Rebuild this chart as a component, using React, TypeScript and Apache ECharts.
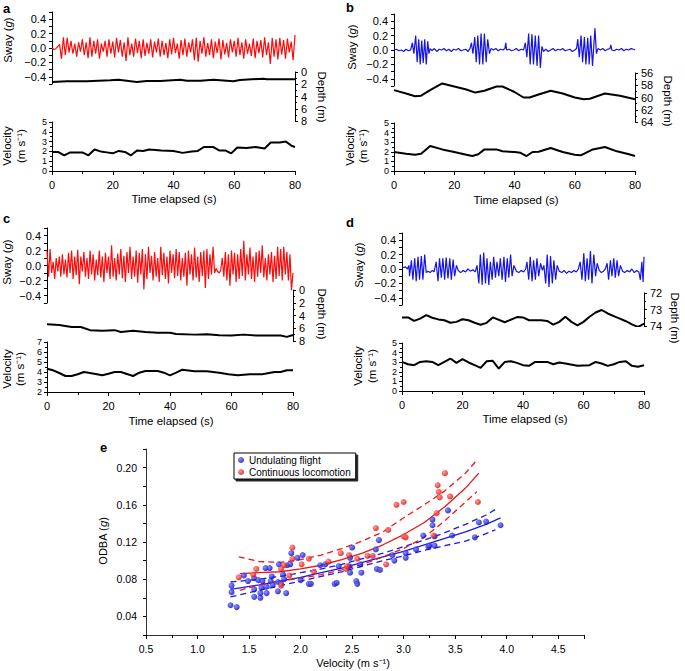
import React, { useEffect, useRef } from "react";
import * as echarts from "echarts";

const FF = '"Liberation Sans", Arial, Helvetica, sans-serif';
const RED = "#ff0a0a";
const BLUE = "#1414e6";

// ---------- Panel a ----------
const swayA = [
  0.0, -0.02, -0.01, 0.02, 0.05, -0.15, 0.15, -0.1, 0.14, -0.06,
  0.1, -0.08, 0.06, -0.12, 0.08, -0.05, 0.12, -0.1, 0.08, -0.14,
  0.15, -0.12, 0.1, -0.08, 0.12, -0.15, 0.06, -0.05, 0.1, -0.12,
  0.12, -0.08, 0.09, -0.13, 0.14, -0.06, 0.11, -0.12, 0.08, -0.18,
  0.15, -0.1, 0.06, -0.12, 0.13, -0.07, 0.1, -0.14, 0.12, -0.11,
  0.07, -0.08, 0.12, -0.13, 0.09, -0.06, 0.13, -0.12, 0.1, -0.1,
  0.07, -0.14, 0.12, -0.09, 0.14, -0.07, 0.06, -0.15, 0.11, -0.1,
  0.13, -0.12, 0.08, -0.06, 0.12, -0.17, 0.14, -0.19, 0.1, -0.08,
  0.15, -0.12, 0.07, -0.1, 0.12, -0.14, 0.09, -0.07, 0.13, -0.16,
  0.11, -0.09, 0.07, -0.13, 0.12, -0.06, 0.1, -0.12, 0.14, -0.1,
  0.08, -0.15, 0.12, -0.08, 0.06, -0.11, 0.13, -0.14, 0.1, -0.07,
  0.11, -0.13, 0.15, -0.1, 0.08, -0.22, 0.14, -0.12, 0.12, -0.16,
  0.14, -0.09, 0.11, -0.15, 0.13, -0.06, 0.09, -0.17, 0.18,
];
const depthA: number[][] = [
  [0, 1.63], [4.9, 1.52], [11.5, 1.52], [19.2, 1.36], [21.9, 1.25], [27.9, 1.63],
  [31.2, 1.47], [35.6, 1.47], [42.2, 1.25], [44.4, 1.41], [48.8, 1.41], [53.2, 1.25],
  [59.7, 1.52], [61.9, 1.3], [69.6, 1.09], [70.7, 1.2], [80, 1.2],
];
const velA: number[][] = [
  [0, 1.95], [2, 1.95], [4, 1.6], [6, 1.9], [10, 1.9], [12, 1.6], [14, 2.2], [16, 2.0],
  [18, 1.9], [20, 1.8], [22, 2.05], [24, 1.95], [26, 1.6], [28, 2.1], [30, 2.05], [32, 2.2],
  [36, 2.1], [40, 2.05], [43, 1.85], [46, 2.0], [48, 2.05], [50, 2.45], [53, 2.45], [55, 2.1],
  [57, 2.1], [59, 1.8], [61, 2.4], [64, 2.35], [67, 2.45], [70, 2.3], [72, 2.9], [75, 2.9],
  [77, 3.0], [79, 2.55], [80, 2.45],
];

// ---------- Panel b ----------
const swayB: number[][] = [
  [0, 0.0], [0.8, 0.01], [1.6, -0.01], [2.4, 0.0], [3.2, -0.02], [4.0, 0.01], [4.8, -0.01], [5.5, 0.0],
  [6.1, 0.1], [6.6, -0.05], [7.2, 0.2], [7.7, -0.17], [8.2, 0.15], [8.7, -0.2], [9.2, 0.13], [9.7, -0.18],
  [10.2, 0.15], [10.7, -0.2], [11.2, 0.12], [11.6, -0.05], [12.0, 0.02],
  [12.6, -0.01], [13.4, 0.02], [14.2, -0.02], [15.0, 0.01], [15.8, 0.0], [16.6, 0.02], [17.4, -0.01],
  [18.2, 0.01], [19.0, -0.02], [19.8, 0.01], [20.6, 0.0], [21.4, 0.02], [22.2, -0.01], [23.0, 0.0],
  [23.8, 0.01], [24.6, -0.02], [25.2, 0.02],
  [25.7, 0.1], [26.2, -0.05], [26.8, 0.18], [27.3, -0.17], [27.8, 0.2], [28.4, -0.2], [28.9, 0.23],
  [29.5, -0.2], [30.0, 0.23], [30.6, -0.17], [31.1, 0.15], [31.7, -0.05], [32.2, 0.02],
  [33.0, 0.0], [33.8, 0.02], [34.6, -0.01], [35.4, 0.01], [36.2, 0.0], [36.8, 0.02], [37.1, 0.1],
  [37.4, 0.0], [38.2, 0.01], [39.0, -0.01], [39.8, 0.0], [40.6, 0.02], [41.4, -0.01], [42.2, 0.01], [43.0, 0.0],
  [43.6, 0.1], [44.1, -0.1], [44.7, 0.23], [45.2, -0.2], [45.8, 0.22], [46.3, -0.2], [46.9, 0.2],
  [47.5, -0.22], [48.0, 0.2], [48.6, -0.25], [49.1, 0.05], [49.6, -0.02],
  [50.4, 0.01], [51.2, -0.02], [52.0, 0.0], [52.8, 0.02], [53.6, -0.01], [54.4, 0.01], [55.2, 0.0],
  [56.0, 0.02], [56.8, -0.01], [57.6, 0.0], [58.4, 0.01], [59.2, -0.02], [60.0, 0.0], [60.6, 0.02],
  [61.0, 0.15], [61.5, -0.1], [62.1, 0.2], [62.6, -0.17], [63.2, 0.18], [63.7, -0.2], [64.3, 0.17],
  [64.8, -0.2], [65.3, 0.2], [65.9, -0.22], [66.7, 0.3], [67.2, -0.05], [67.7, 0.02],
  [68.5, 0.0], [69.3, 0.02], [70.1, -0.01], [70.9, 0.01], [71.7, 0.02], [72.0, 0.07], [72.3, 0.0],
  [73.1, -0.01], [73.9, 0.01], [74.7, 0.0], [75.5, 0.02], [76.3, -0.01], [77.1, 0.01], [77.9, 0.0],
  [78.7, 0.02], [79.5, 0.01], [80.0, 0.0],
];
const depthB: number[][] = [
  [0, 58.8], [4, 59.35], [7, 59.8], [9, 59.7], [12, 58.8], [16, 57.7], [20, 58.2], [24, 58.7],
  [27, 59.2], [30, 58.9], [34, 58.2], [36, 58.2], [40, 59.1], [43, 60.0], [45, 60.0], [48, 59.5],
  [52, 58.9], [56, 59.35], [60, 60.0], [63, 60.3], [65, 60.2], [70, 59.35], [75, 59.7], [80, 60.3],
];
const velB: number[][] = [
  [0, 1.98], [4, 1.8], [7, 1.7], [9, 1.8], [12, 2.6], [16, 2.25], [20, 1.98], [24, 1.7], [26, 1.56],
  [28, 1.75], [30, 2.25], [34, 2.25], [36, 2.05], [40, 1.98], [42, 1.9], [44, 1.56], [46, 1.98],
  [48, 2.0], [52, 2.4], [56, 1.98], [60, 1.7], [62, 1.63], [66, 2.25], [70, 2.5], [74, 2.05],
  [78, 1.75], [80, 1.56],
];

// ---------- Panel c ----------
const swayC = [
  0.2, -0.15, 0.22, -0.1, 0.05, -0.18, 0.1, -0.08, 0.12, -0.15,
  0.15, -0.12, 0.08, -0.16, 0.17, -0.1, 0.2, -0.18, 0.12, -0.13,
  0.21, -0.25, 0.12, -0.08, 0.18, -0.15, 0.1, -0.18, 0.2, -0.12,
  0.15, -0.2, 0.08, -0.13, 0.2, -0.16, 0.12, -0.22, 0.17, -0.1,
  0.12, -0.18, 0.27, -0.15, 0.1, -0.2, 0.16, -0.12, 0.22, -0.17,
  0.13, -0.22, 0.18, -0.1, 0.25, -0.18, 0.12, -0.15, 0.2, -0.23,
  0.17, -0.12, 0.22, -0.32, 0.15, -0.18, 0.25, -0.1, 0.13, -0.2,
  0.18, -0.15, 0.1, -0.22, 0.25, -0.13, 0.17, -0.18, 0.12, -0.24,
  0.2, -0.1, 0.15, -0.17, 0.22, -0.14, 0.18, -0.2, 0.1, -0.15,
  0.17, -0.27, 0.2, -0.12, 0.15, -0.2, 0.24, -0.16, 0.12, -0.22,
  0.18, -0.14, 0.2, -0.3, 0.22, -0.18, 0.15, -0.12, 0.25, -0.1,
  -0.04, -0.08, -0.1, -0.06, 0.1, -0.15, 0.18, -0.2, 0.15, -0.27,
  0.2, -0.12, 0.17, -0.22, 0.15, -0.18, 0.22, -0.14, 0.33, -0.2,
  0.15, -0.12, 0.24, -0.18, 0.12, -0.22, 0.18, -0.15, 0.2, -0.1,
  0.27, -0.16, 0.1, -0.2, 0.15, -0.12, 0.18, -0.22, 0.13, -0.18,
  0.25, -0.14, 0.22, -0.2, 0.25, -0.12, 0.18, -0.2, 0.15, -0.33,
  -0.1,
];
const depthC: number[][] = [
  [0, 5.37], [4, 5.5], [8, 5.8], [11, 5.8], [14, 6.3], [18, 6.4], [22, 6.3], [24, 6.6], [28, 6.4],
  [32, 6.6], [36, 6.7], [40, 6.7], [42, 6.9], [48, 7.0], [52, 6.95], [56, 7.1], [60, 7.15], [64, 7.0],
  [68, 7.15], [72, 7.15], [76, 7.15], [78, 7.35], [80, 7.05],
];
const velC: number[][] = [
  [0, 4.33], [2, 4.17], [4, 3.9], [6, 3.6], [8, 3.6], [10, 3.77], [12, 4.0], [14, 3.9], [18, 3.67],
  [20, 3.83], [22, 4.0], [24, 4.0], [28, 3.6], [30, 3.93], [32, 4.1], [36, 4.1], [38, 3.93], [40, 3.67],
  [42, 3.93], [44, 4.23], [48, 4.07], [52, 4.07], [56, 3.93], [59, 3.77], [62, 3.67], [66, 3.77],
  [70, 3.77], [74, 4.0], [76, 4.0], [78, 4.17], [80, 4.17],
];

// ---------- Panel d ----------
const swayD: number[][] = [
  [0, 0.03], [0.6, 0.02], [1.2, 0.03], [1.8, 0.0], [2.3, 0.05], [2.5, -0.1], [3.1, 0.12], [3.6, -0.15],
  [4.2, 0.15], [4.7, -0.17], [5.3, 0.17], [5.8, -0.15], [6.4, 0.18], [6.9, -0.15], [7.5, 0.2], [8.0, -0.05],
  [8.6, -0.03], [9.3, -0.05], [10.0, -0.02], [10.6, -0.04], [11.3, 0.1], [11.9, -0.17], [12.4, 0.15],
  [13.0, -0.12], [13.5, 0.15], [14.1, -0.15], [14.6, 0.16], [15.2, -0.13], [15.8, 0.15], [16.3, -0.15],
  [16.9, 0.13], [17.4, -0.1], [18.0, 0.05], [18.6, -0.02], [19.4, -0.05], [20.2, -0.02], [21.0, -0.04],
  [21.8, 0.0], [22.6, -0.03], [23.4, -0.01], [24.2, -0.04], [24.8, 0.05], [25.4, -0.2], [25.9, 0.2],
  [26.5, -0.22], [27.0, 0.23], [27.6, -0.2], [28.1, 0.15], [28.7, -0.22], [29.2, 0.1], [29.8, -0.15],
  [30.3, 0.17], [30.9, -0.12], [31.4, 0.1], [32.0, -0.1], [32.5, 0.15], [33.1, -0.15], [33.7, 0.17],
  [34.2, -0.18], [34.8, 0.15], [35.3, -0.12], [35.9, 0.2], [36.4, -0.1], [37.0, 0.05], [37.8, -0.03],
  [38.6, -0.05], [39.4, -0.02], [40.2, -0.04], [40.9, 0.0], [41.3, 0.1], [41.9, -0.15], [42.4, 0.17],
  [43.0, -0.17], [43.5, 0.12], [44.1, -0.15], [44.6, 0.15], [45.2, -0.1], [45.8, 0.08], [46.4, -0.02],
  [46.9, 0.05], [47.5, -0.2], [48.0, 0.2], [48.6, -0.25], [49.1, 0.18], [49.7, -0.2], [50.2, 0.12],
  [50.8, -0.15], [51.3, 0.05], [52.0, -0.03], [52.8, -0.05], [53.6, -0.02], [54.4, -0.06], [55.2, -0.03],
  [56.0, -0.05], [56.8, -0.02], [57.6, -0.04], [58.3, 0.0], [58.9, 0.1], [59.5, -0.15], [60.1, 0.22],
  [60.6, -0.17], [61.2, 0.15], [61.7, -0.15], [62.3, 0.25], [62.8, -0.2], [63.4, 0.2], [64.0, -0.1],
  [64.5, 0.08], [65.2, -0.02], [65.9, -0.05], [66.6, -0.03], [67.2, 0.0], [67.8, 0.08], [68.3, -0.15],
  [68.9, 0.12], [69.4, -0.1], [70.0, 0.15], [70.5, -0.12], [71.1, 0.12], [71.6, -0.1], [72.2, 0.05],
  [72.9, -0.03], [73.6, -0.05], [74.4, -0.02], [75.2, -0.04], [76.0, 0.0], [76.8, -0.05], [77.6, -0.02],
  [78.3, -0.04], [78.8, -0.15], [79.3, 0.1], [79.7, -0.18], [80.0, 0.17],
];
const depthD: number[][] = [
  [0, 73.48], [2, 73.48], [4, 73.69], [6, 73.55], [8, 73.34], [10, 73.5], [12, 73.6], [14, 73.65],
  [16, 73.8], [18, 73.75], [20, 73.59], [22, 73.65], [24, 73.8], [26, 73.92], [28, 73.81], [30, 73.48],
  [34, 73.77], [38, 73.46], [40, 73.48], [42, 73.65], [46, 73.65], [48, 73.69], [50, 73.92], [52, 73.75],
  [54, 73.44], [56, 73.75], [58, 73.96], [60, 73.75], [62, 73.44], [64, 73.18], [66, 73.03], [68, 73.24],
  [70, 73.4], [72, 73.55], [74, 73.71], [76, 73.9], [78, 74.06], [79, 73.96], [80, 73.86],
];
const velD: number[][] = [
  [0, 3.03], [2, 2.79], [4, 2.69], [6, 3.03], [8, 3.1], [10, 3.03], [12, 2.69], [14, 3.03], [16, 3.38],
  [18, 2.93], [20, 3.31], [22, 2.97], [24, 2.69], [26, 2.41], [28, 3.1], [30, 3.14], [32, 2.34],
  [34, 3.03], [36, 3.1], [38, 2.93], [40, 2.69], [42, 2.62], [44, 3.03], [48, 3.03], [50, 2.79],
  [52, 2.97], [54, 2.86], [58, 2.62], [62, 2.69], [64, 3.03], [66, 2.86], [68, 2.62], [70, 2.79],
  [72, 3.03], [74, 3.1], [76, 2.62], [78, 2.52], [80, 2.69],
];

// ---------- Panel e ----------
const undulatingPts: number[][] = [
  [1.32, 0.052], [1.38, 0.05], [1.33, 0.073], [1.33, 0.066], [1.45, 0.084], [1.49, 0.078], [1.55, 0.081],
  [1.55, 0.069], [1.55, 0.061], [1.61, 0.06], [1.59, 0.079], [1.61, 0.065], [1.63, 0.078], [1.62, 0.071],
  [1.66, 0.092], [1.7, 0.092], [1.67, 0.072], [1.67, 0.065], [1.71, 0.078], [1.72, 0.083], [1.73, 0.074],
  [1.78, 0.077], [1.78, 0.067], [1.79, 0.096], [1.81, 0.075], [1.83, 0.085], [1.84, 0.08], [1.86, 0.065],
  [1.87, 0.095], [1.9, 0.096], [1.91, 0.108], [1.97, 0.103], [2.02, 0.106], [2.0, 0.079], [2.08, 0.075],
  [2.1, 0.075], [2.19, 0.095], [2.24, 0.096], [2.33, 0.075], [2.35, 0.076], [2.37, 0.094], [2.47, 0.094],
  [2.48, 0.087], [2.5, 0.114], [2.48, 0.103], [2.54, 0.078], [2.55, 0.075], [2.58, 0.096], [2.59, 0.087],
  [2.73, 0.112], [2.76, 0.122], [2.74, 0.091], [2.77, 0.09], [2.89, 0.106], [2.91, 0.1], [3.02, 0.108],
  [3.02, 0.103], [3.12, 0.112], [3.19, 0.127], [3.24, 0.115], [3.28, 0.144], [3.28, 0.138], [3.3, 0.126],
  [3.25, 0.116], [3.3, 0.116], [3.43, 0.154], [3.47, 0.127], [3.69, 0.125], [3.73, 0.141], [3.8, 0.142],
  [3.94, 0.138],
];
const continuousPts: number[][] = [
  [1.4, 0.082], [1.54, 0.085], [1.57, 0.091], [1.81, 0.073], [1.81, 0.091], [1.84, 0.095], [1.89, 0.084],
  [1.92, 0.114], [1.92, 0.102], [2.01, 0.096], [2.08, 0.102], [2.13, 0.088], [2.27, 0.099], [2.39, 0.108],
  [2.44, 0.091], [2.45, 0.094], [2.47, 0.106], [2.55, 0.102], [2.65, 0.105], [2.7, 0.105], [2.73, 0.135],
  [2.85, 0.133], [2.83, 0.096], [2.93, 0.16], [3.0, 0.163], [3.0, 0.126], [3.02, 0.125], [3.29, 0.127],
  [3.32, 0.151], [3.33, 0.181], [3.34, 0.174], [3.35, 0.168], [3.4, 0.194], [3.45, 0.169], [3.72, 0.163],
];
const redFit: number[][] = [
  [1.41, 0.086], [1.6, 0.087], [1.8, 0.088], [2.0, 0.091], [2.2, 0.095], [2.4, 0.101], [2.6, 0.108],
  [2.8, 0.117], [3.0, 0.128], [3.2, 0.141], [3.4, 0.158], [3.6, 0.178], [3.73, 0.194],
];
const redUpper: number[][] = [
  [1.4, 0.104], [1.6, 0.099], [1.8, 0.098], [2.0, 0.101], [2.2, 0.106], [2.4, 0.113], [2.6, 0.121],
  [2.8, 0.131], [3.0, 0.146], [3.2, 0.16], [3.4, 0.175], [3.6, 0.194], [3.71, 0.208],
];
const redLower: number[][] = [
  [1.41, 0.068], [1.6, 0.074], [1.8, 0.078], [2.0, 0.081], [2.2, 0.085], [2.4, 0.09], [2.6, 0.096],
  [2.8, 0.104], [3.0, 0.113], [3.2, 0.125], [3.4, 0.143], [3.6, 0.163], [3.71, 0.174],
];
const blueFit: number[][] = [
  [1.32, 0.069], [1.6, 0.074], [1.8, 0.078], [2.0, 0.082], [2.2, 0.087], [2.4, 0.092], [2.6, 0.098],
  [2.8, 0.104], [3.0, 0.11], [3.2, 0.117], [3.4, 0.124], [3.6, 0.131], [3.8, 0.139], [3.94, 0.146],
];
const blueUpper: number[][] = [
  [1.32, 0.077], [1.6, 0.08], [1.8, 0.083], [2.0, 0.087], [2.2, 0.091], [2.4, 0.096], [2.6, 0.102],
  [2.8, 0.108], [3.0, 0.115], [3.2, 0.122], [3.4, 0.13], [3.6, 0.139], [3.8, 0.149], [3.89, 0.155],
];
const blueLower: number[][] = [
  [1.32, 0.061], [1.6, 0.068], [1.8, 0.073], [2.0, 0.078], [2.2, 0.083], [2.4, 0.088], [2.6, 0.094],
  [2.8, 0.1], [3.0, 0.105], [3.2, 0.111], [3.4, 0.116], [3.6, 0.121], [3.8, 0.129], [3.89, 0.133],
];

// ---------- helpers ----------
const toSeries = (vals: number[]) => vals.map((v, i) => [(i * 80) / (vals.length - 1), v]);
const minus = (s: string) => s.replace("-", "\u2212");

const axisLine = { show: true, onZero: false, lineStyle: { color: "#000", width: 1 } };
const tickStyle = { show: true, length: 3, lineStyle: { color: "#000", width: 1 } };
const minor = { show: true, splitNumber: 2, length: 2, lineStyle: { color: "#000", width: 1 } };
const lbl = (size: number, margin: number) => ({
  fontSize: size, fontFamily: FF, color: "#000", margin,
  showMinLabel: true, showMaxLabel: true, hideOverlap: false,
});

type Box = { x0: number; x1: number; sT: number; sB: number; dT: number; dB: number; vT: number; vB: number };

function buildOption() {
  const panels = [
    { sway: toSeries(swayA), color: RED, depth: depthA, vel: velA, dr: [0, 8, 2], vr: [0, 5, 1],
      box: { x0: 52, x1: 295, sT: 12, sB: 84, dT: 72, dB: 121, vT: 122, vB: 171 } as Box },
    { sway: swayB, color: BLUE, depth: depthB, vel: velB, dr: [56, 64, 2], vr: [0, 5, 1],
      box: { x0: 394, x1: 635, sT: 14, sB: 86, dT: 73, dB: 122, vT: 123, vB: 171 } as Box },
    { sway: toSeries(swayC), color: RED, depth: depthC, vel: velC, dr: [0, 8, 2], vr: [2, 7, 1],
      box: { x0: 47, x1: 293, sT: 228, sB: 303, dT: 290, dB: 341, vT: 342, vB: 392 } as Box },
    { sway: swayD, color: BLUE, depth: depthD, vel: velD, dr: [72, 74, 1], vr: [0, 5, 1],
      box: { x0: 402, x1: 644, sT: 233, sB: 305, dT: 293, dB: 326, vT: 343, vB: 391 } as Box },
  ];

  const grid: any[] = [];
  const xAxis: any[] = [];
  const yAxis: any[] = [];
  const series: any[] = [];

  panels.forEach((p) => {
    const b = p.box;
    const w = b.x1 - b.x0;
    // sway
    let gi = grid.length;
    grid.push({ left: b.x0, top: b.sT, width: w, height: b.sB - b.sT, outerBoundsMode: "none" });
    xAxis.push({ gridIndex: gi, type: "value", min: 0, max: 80, show: false });
    yAxis.push({
      gridIndex: gi, type: "value", min: -0.5, max: 0.5, interval: 0.1,
      axisLine, axisTick: tickStyle, splitLine: { show: false },
      axisLabel: {
        ...lbl(11, 6),
        formatter: (v: number) => {
          const k = Math.round(v * 10);
          if (k % 2 !== 0 || Math.abs(k) > 4) return "";
          return minus((k / 10).toFixed(1));
        },
      },
    });
    series.push({
      type: "line", xAxisIndex: gi, yAxisIndex: gi, data: p.sway, showSymbol: false,
      lineStyle: { color: p.color, width: 1.2 }, z: 3,
    });
    // depth
    gi = grid.length;
    grid.push({ left: b.x0, top: b.dT, width: w, height: b.dB - b.dT, outerBoundsMode: "none" });
    xAxis.push({ gridIndex: gi, type: "value", min: 0, max: 80, show: false });
    yAxis.push({
      gridIndex: gi, type: "value", position: "right", inverse: true,
      min: p.dr[0], max: p.dr[1], interval: p.dr[2],
      axisLine, axisTick: tickStyle, minorTick: minor, splitLine: { show: false }, minorSplitLine: { show: false },
      axisLabel: { ...lbl(11, 6), lineHeight: 10 },
    });
    series.push({
      type: "line", xAxisIndex: gi, yAxisIndex: gi, data: p.depth, showSymbol: false,
      lineStyle: { color: "#000", width: 2 }, z: 4,
    });
    // velocity
    gi = grid.length;
    grid.push({ left: b.x0, top: b.vT, width: w, height: b.vB - b.vT, outerBoundsMode: "none" });
    xAxis.push({
      gridIndex: gi, type: "value", min: 0, max: 80, interval: 20,
      axisLine, axisTick: { ...tickStyle, length: 4 }, minorTick: { ...minor, length: 3 },
      splitLine: { show: false }, minorSplitLine: { show: false }, axisLabel: lbl(11, 8),
    });
    yAxis.push({
      gridIndex: gi, type: "value", min: p.vr[0], max: p.vr[1], interval: p.vr[2],
      axisLine, axisTick: tickStyle, minorTick: minor, splitLine: { show: false }, minorSplitLine: { show: false },
      axisLabel: { ...lbl(9, 5), lineHeight: 7 },
    });
    series.push({
      type: "line", xAxisIndex: gi, yAxisIndex: gi, data: p.vel, showSymbol: false,
      lineStyle: { color: "#000", width: 2 }, z: 4,
    });
  });

  // panel e
  const ge = grid.length;
  grid.push({ left: 146, top: 449, width: 438, height: 186, outerBoundsMode: "none" });
  xAxis.push({
    gridIndex: ge, type: "value", min: 0.5, max: 4.75, interval: 0.5,
    axisLine: { ...axisLine, lineStyle: { color: "#333", width: 1 } },
    axisTick: { ...tickStyle, length: 4 }, minorTick: { ...minor, length: 3 },
    splitLine: { show: false }, minorSplitLine: { show: false },
    axisLabel: { ...lbl(10.5, 8), showMaxLabel: false, formatter: (v: number) => v.toFixed(1) },
  });
  yAxis.push({
    gridIndex: ge, type: "value", min: 0.02, max: 0.22, interval: 0.02,
    axisLine: { ...axisLine, lineStyle: { color: "#333", width: 1 } },
    axisTick: tickStyle, splitLine: { show: false },
    axisLabel: {
      ...lbl(10.5, 9),
      formatter: (v: number) => (Math.round(v * 100) % 4 === 0 ? v.toFixed(2) : ""),
    },
  });
  const ball = (light: string, dark: string) => ({
    type: "radial", x: 0.35, y: 0.35, r: 0.7,
    colorStops: [{ offset: 0, color: light }, { offset: 1, color: dark }],
  });
  const fitLine = (data: number[][], color: string, dashed: boolean) => ({
    type: "line", xAxisIndex: ge, yAxisIndex: ge, data, showSymbol: false, silent: true,
    lineStyle: { color, width: 1.3, type: dashed ? [6, 4] : "solid" }, z: 3,
  });
  series.push(
    {
      name: "Undulating flight", type: "scatter", xAxisIndex: ge, yAxisIndex: ge, data: undulatingPts,
      symbolSize: 6, itemStyle: { color: ball("#7070ff", "#0000c0") }, z: 4,
    },
    {
      name: "Continuous locomotion", type: "scatter", xAxisIndex: ge, yAxisIndex: ge, data: continuousPts,
      symbolSize: 6, itemStyle: { color: ball("#ff8080", "#dd0000") }, z: 5,
    },
    fitLine(blueFit, "#1a1ae0", false),
    fitLine(blueUpper, "#1a1ae0", true),
    fitLine(blueLower, "#1a1ae0", true),
    fitLine(redFit, "#f01414", false),
    fitLine(redUpper, "#f01414", true),
    fitLine(redLower, "#f01414", true),
  );

  const t = (text: string, x: number, y: number, o: any = {}) => ({
    type: "text", x, y, rotation: o.rot || 0, z: 100,
    style: {
      text, fill: "#000",
      font: o.font || `11.5px ${FF}`,
      textAlign: o.align || "center", align: o.align || "center",
      textVerticalAlign: "middle", verticalAlign: "middle",
      rich: { i: { font: `italic 11.5px ${FF}`, fontStyle: "italic", fontSize: 11.5, fontFamily: FF } },
    },
  });
  const R = Math.PI / 2;
  const graphic = [
    t("a", 3, 8, { font: `bold 13px ${FF}`, align: "left" }),
    t("b", 346, 7, { font: `bold 13px ${FF}`, align: "left" }),
    t("c", 3, 218, { font: `bold 13px ${FF}`, align: "left" }),
    t("d", 346, 222, { font: `bold 13px ${FF}`, align: "left" }),
    t("e", 100, 447, { font: `bold 13px ${FF}`, align: "left" }),
    // a
    t("Sway ({i|g})", 8, 40, { rot: R }),
    t("Velocity", 7, 146, { rot: R }),
    t("(m s\u207B\u00B9)", 21, 146, { rot: R }),
    t("Depth (m)", 322, 97, { rot: -R }),
    t("Time elapsed (s)", 174, 199),
    // b
    t("Sway ({i|g})", 352, 47, { rot: R }),
    t("Velocity", 350, 146, { rot: R }),
    t("(m s\u207B\u00B9)", 363, 146, { rot: R }),
    t("Depth (m)", 668, 101, { rot: -R }),
    t("Time elapsed (s)", 516, 200),
    // c
    t("Sway ({i|g})", 7, 262, { rot: R }),
    t("Velocity", 7, 369, { rot: R }),
    t("(m s\u207B\u00B9)", 20, 369, { rot: R }),
    t("Depth (m)", 322, 314, { rot: -R }),
    t("Time elapsed (s)", 171, 421),
    // d
    t("Sway ({i|g})", 359, 265, { rot: R }),
    t("Velocity", 358, 366, { rot: R }),
    t("(m s\u207B\u00B9)", 372, 366, { rot: R }),
    t("Depth (m)", 675, 318, { rot: -R }),
    t("Time elapsed (s)", 525, 419),
    // e
    t("ODBA ({i|g})", 103, 541, { rot: R, font: `11px ${FF}` }),
    t("Velocity (m s\u207B\u00B9)", 353, 663, { font: `11px ${FF}` }),
  ];

  return {
    animation: false,
    backgroundColor: "#fff",
    grid, xAxis, yAxis, series, graphic,
    legend: {
      data: [
        { name: "Undulating flight", icon: "circle" },
        { name: "Continuous locomotion", icon: "circle" },
      ],
      orient: "vertical", left: 234, top: 453,
      itemWidth: 6, itemHeight: 6, itemGap: 2, padding: [2, 5, 2, 4],
      backgroundColor: "#fff", borderColor: "#000", borderWidth: 1,
      shadowColor: "rgba(0,0,0,0.85)", shadowBlur: 0, shadowOffsetX: 2, shadowOffsetY: 2,
      textStyle: { fontSize: 10, fontFamily: FF, color: "#000" },
      selectedMode: false,
    },
  };
}

export default function App() {
  const ref = useRef<HTMLDivElement>(null);
  useEffect(() => {
    if (!ref.current) return;
    const chart = echarts.init(ref.current, null, { renderer: "svg" });
    chart.setOption(buildOption() as any);
    return () => chart.dispose();
  }, []);
  return (
    <div
      ref={ref}
      style={{ position: "fixed", left: 0, top: 0, width: 685, height: 671, background: "#fff" }}
    />
  );
}
